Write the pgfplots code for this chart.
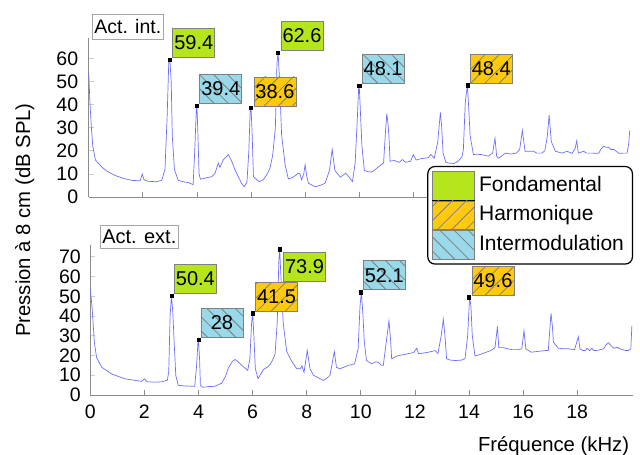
\documentclass[border=0pt]{standalone}
\usepackage{fontspec}
\setmainfont{Liberation Sans}
\usepackage{pgfplots}
\pgfplotsset{compat=1.18}
\usetikzlibrary{patterns.meta}

\definecolor{specblue}{RGB}{110,110,250}
\definecolor{limeg}{RGB}{181,230,29}
\definecolor{goldy}{RGB}{255,201,14}
\definecolor{lightb}{RGB}{153,217,234}

\tikzset{
  lab/.style={draw=black!50, line width=0.8pt, minimum width=42pt, minimum height=29pt, inner sep=1pt, font=\fontsize{20}{22}\selectfont, text=black},
  fonda/.style={lab, fill=limeg},
  harmo/.style={lab, preaction={fill=goldy}, pattern={Lines[angle=45,distance=10pt,line width=0.8pt]}, pattern color=black!50},
  inter/.style={lab, preaction={fill=lightb}, pattern={Lines[angle=-45,distance=10pt,line width=0.8pt]}, pattern color=black!50},
}

\pgfplotsset{
  myax/.style={scale only axis, axis lines=left,
    axis line style={-, draw=black!45, line width=0.8pt},
    xmin=0, xmax=20.05, ymin=0, xtick={0,2,...,18},
    tick align=inside, major tick length=5pt,
    xtick style={draw=black!45, line width=0.8pt},
    ytick style={draw=black!20, line width=0.8pt},
    tick label style={font=\fontsize{19.5}{22}\selectfont},
    /pgf/number format/assume math mode=true, clip=false,
    xticklabel style={yshift=-6.5pt},
  },
  curve/.style={color=specblue, line width=0.7pt, no marks, forget plot},
  pk/.style={only marks, mark=square*, mark size=1.6pt, color=black, forget plot,
    point meta=explicit symbolic, nodes near coords},
}

\begin{document}
\begin{tikzpicture}

% ---------------- bottom axis ----------------
\begin{axis}[myax, at={(90.3pt,-395pt)}, anchor=south west,
  width=542.4pt, height=150pt, ymax=76, ytick={0,10,...,70},
  yticklabel style={xshift=-6pt},
  every axis title/.style={at={(axis description cs:0,1)}, anchor=south west, xshift=9.7pt, yshift=-4pt,
    draw=black!35, line width=0.6pt, fill=white, minimum width=78pt, minimum height=23pt, inner sep=0pt,
    font=\fontsize{20}{22}\selectfont},
  title={Act. ext.},
  every axis x label/.style={at={(axis description cs:1,0)}, anchor=base east, yshift=-56.7pt,
    font=\fontsize{20.3}{22}\selectfont},
  xlabel={Fréquence (kHz)},
]
\addplot[curve] coordinates {
(0.00,53.5) (0.04,48) (0.07,43.5) (0.15,26.7) (0.23,19.1) (0.42,14.1) (0.78,10.7) (1.28,8.2)
(1.9,6.9) (2.0,8.2) (2.1,6.7) (2.4,6.5) (2.65,6.7) (2.85,7.5) (2.9,12) (2.95,40) (3.0,50.4)
(3.05,42) (3.1,26.7) (3.16,9.9) (3.25,4.9) (3.5,4.6) (3.86,4.4) (3.93,15) (3.98,27) (4.0,28)
(4.04,18) (4.07,4.9) (4.16,3.9) (4.4,4.3) (4.6,4.4) (4.86,6) (5.0,9.5) (5.1,13.6) (5.25,17)
(5.35,18) (5.45,17) (5.6,15) (5.82,12.5) (5.9,18.4) (5.96,36) (6.0,41.5) (6.04,32) (6.1,13.4)
(6.2,8.3) (6.3,10.5) (6.4,13) (6.55,14.1) (6.65,15.5) (6.75,18) (6.83,20.8) (6.91,36.7)
(6.97,68) (7.0,73.9) (7.04,62) (7.13,36.7) (7.26,22) (7.43,17.5) (7.63,13.3) (7.76,13.3)
(7.82,14.8) (7.9,11.5) (8.02,22.5) (8.12,13.3) (8.25,10) (8.5,8.2) (8.61,7.4) (8.75,8.5)
(8.86,10) (9.02,22) (9.1,14) (9.22,13.3) (9.4,14.2) (9.53,15) (9.77,15.8) (9.9,23.4)
(9.97,45) (10.02,52.1) (10.08,40) (10.13,26.7) (10.21,17.5) (10.4,15.8) (10.55,16.8)
(10.65,16.6) (10.75,15.2) (10.83,15) (10.97,30) (11.04,37.6) (11.1,28) (11.14,18.4)
(11.25,19.2) (11.39,20) (11.6,20.5) (11.76,21) (11.95,21.5) (12.07,23.7) (12.13,21)
(12.3,21.2) (12.5,21.7) (12.75,22.5) (12.85,21) (12.97,30) (13.05,38.4) (13.11,30)
(13.17,18.4) (13.3,17.7) (13.48,17.5) (13.7,17.6) (13.85,18.4) (13.95,30) (14.02,49.6)
(14.07,45) (14.12,30) (14.22,19.8) (14.4,20.5) (14.6,21.5) (14.8,22.5) (14.96,24) (15.05,34.7)
(15.1,24) (15.27,24) (15.4,23.5) (15.58,23) (15.8,23) (15.95,23.4) (16.03,32.6) (16.1,23.4)
(16.3,21.7) (16.5,22) (16.8,22.5) (16.93,22.5) (16.98,32) (17.03,41.4) (17.08,35) (17.12,26.7)
(17.3,23.7) (17.5,23.4) (17.67,23.4) (17.9,23) (18.04,29.5) (18.1,23.4) (18.2,22.6) (18.3,22.5)
(18.36,23.7) (18.45,22.5) (18.54,23.7) (18.6,22.6) (18.67,22.5) (18.8,22.8) (18.97,23.4)
(19.07,25.5) (19.16,26.5) (19.25,25) (19.35,23.7) (19.47,24.2) (19.6,23.3) (19.8,22.5)
(19.9,22.6) (19.98,23.4) (20.02,35)
};
\addplot[pk, every node near coord/.append style={fonda, anchor=south west, xshift=2.5pt, yshift=2pt}]
  coordinates {(3,50.4) [50.4]};
\addplot[pk, every node near coord/.append style={fonda, anchor=north west, xshift=3.5pt, yshift=-2.5pt}]
  coordinates {(7,73.9) [73.9]};
\addplot[pk, every node near coord/.append style={inter, anchor=south west, xshift=2pt, yshift=2pt}]
  coordinates {(4,28) [28] (10,52.1) [52.1]};
\addplot[pk, every node near coord/.append style={harmo, anchor=south west, xshift=2.5pt, yshift=1.5pt}]
  coordinates {(6,41.5) [41.5] (14,49.6) [49.6]};
\end{axis}

% ---------------- top axis ----------------
\begin{axis}[myax, at={(88.7pt,-197pt)}, anchor=south west,
  width=542.4pt, height=159.4pt, ymax=69, ytick={0,10,...,60},
  xticklabels={},
  yticklabel style={xshift=-7pt},
  every axis title/.style={at={(axis description cs:0,1)}, anchor=south west, xshift=3.3pt, yshift=-2pt,
    draw=black!35, line width=0.6pt, fill=white, minimum width=71pt, minimum height=25pt, inner sep=0pt,
    font=\fontsize{19.5}{22}\selectfont},
  title={Act. int.},
  legend style={at={(1.0035,0.195)}, anchor=north east, draw=black, line width=1.2pt,
    rounded corners=7pt, fill=white, inner sep=4.5pt, row sep=0pt,
    font=\fontsize{21}{23}\selectfont,
    nodes={inner xsep=4pt, inner ysep=0pt, text height=15pt, text depth=4pt}},
  legend cell align=left,
  legend image code/.code={\draw[sharp corners, line width=0.8pt, draw=black!50, #1] (0pt,-14.35pt) rectangle (42pt,14.35pt);},
]
\addlegendimage{fill=limeg}
\addlegendentry{Fondamental}
\addlegendimage{preaction={fill=goldy}, pattern={Lines[angle=45,distance=10pt,line width=0.8pt]}, pattern color=black!50}
\addlegendentry{Harmonique}
\addlegendimage{preaction={fill=lightb}, pattern={Lines[angle=-45,distance=10pt,line width=0.8pt]}, pattern color=black!50}
\addlegendentry{Intermodulation}

\addplot[curve] coordinates {
(0.00,53.8) (0.05,40) (0.10,30) (0.15,22) (0.25,16) (0.35,14.7) (0.5,12.8) (0.7,11) (1.0,9.2)
(1.3,8) (1.6,7.2) (1.9,7) (1.98,9.9) (2.05,7.4) (2.2,6.8) (2.5,6.6) (2.7,7.2) (2.82,12)
(2.9,35) (2.96,58.5) (3.0,59.4) (3.05,50) (3.09,26.5) (3.17,11.8) (3.31,7.2) (3.5,6.6)
(3.7,6.2) (3.86,5.3) (3.92,20) (3.98,38.5) (4.0,39.4) (4.03,30) (4.08,10) (4.13,7.7)
(4.35,8.3) (4.55,8.8) (4.67,10.3) (4.79,14.7) (4.85,12.8) (4.98,16.2) (5.1,17.5) (5.16,18.4)
(5.29,15.4) (5.4,12) (5.53,8.8) (5.65,6) (5.75,4.4) (5.85,6.5) (5.92,20) (5.97,37.5) (6.0,38.6)
(6.04,28) (6.09,8.8) (6.3,6.6) (6.45,7.4) (6.6,10) (6.7,12.5) (6.8,18) (6.9,30) (6.96,58)
(7.0,62.6) (7.05,52) (7.13,27) (7.26,14) (7.38,7.8) (7.55,8.5) (7.75,10.3) (7.81,10) (7.87,7.4)
(7.95,10) (8.0,14) (8.06,9) (8.12,6) (8.37,4.4) (8.6,5.2) (8.74,6) (8.9,11.5) (9.0,20.6)
(9.1,11.5) (9.3,8.6) (9.5,10.3) (9.6,9) (9.75,6.7) (9.85,14.7) (9.93,34) (9.98,47.5) (10.0,48.1)
(10.04,38) (10.1,22) (10.19,11.5) (10.3,11) (10.46,10.8) (10.6,12) (10.77,13.6) (10.9,14.7)
(10.97,28) (11.02,36.1) (11.06,32) (11.1,26) (11.14,15.5) (11.3,15.8) (11.47,15) (11.6,16.2)
(11.72,15) (11.9,15.5) (12.0,18.4) (12.1,16) (12.25,16.5) (12.4,16.8) (12.55,17) (12.65,18.4)
(12.77,16.8) (12.9,23.6) (13.0,36.6) (13.05,30) (13.1,19) (13.2,15) (13.3,14.7) (13.5,14.5)
(13.66,15.5) (13.8,17.5) (13.85,20.6) (13.92,41) (14.0,48.4) (14.05,38) (14.1,26.5) (14.22,18.4)
(14.35,18.5) (14.5,18.4) (14.77,17.7) (14.93,19) (15.02,25.4) (15.08,17.7) (15.14,16.8)
(15.25,17.6) (15.4,19) (15.6,18.6) (15.8,19) (15.93,20.5) (16.03,28.8) (16.13,19.8) (16.3,19.8)
(16.44,19.8) (16.56,19) (16.75,19) (16.86,20) (16.95,26) (17.02,35.4) (17.1,24) (17.25,19.8)
(17.5,19) (17.68,19.8) (17.87,18.9) (17.98,21) (18.04,24.3) (18.1,19) (18.2,19.4) (18.3,19.8)
(18.4,19) (18.6,19) (18.85,18.9) (18.95,21) (19.04,22) (19.1,21.6) (19.22,21.5) (19.3,20.6)
(19.41,20.6) (19.6,18.9) (19.75,19) (19.9,19) (19.96,23) (20.0,28.8)
};
\addplot[pk, every node near coord/.append style={fonda, anchor=south west, xshift=2.5pt, yshift=2pt}]
  coordinates {(3,59.4) [59.4] (7,62.6) [62.6]};
\addplot[pk, every node near coord/.append style={inter, anchor=south west, xshift=2.5pt, yshift=2pt}]
  coordinates {(4,39.4) [39.4] (10,48.1) [48.1]};
\addplot[pk, every node near coord/.append style={harmo, anchor=south west, xshift=2.5pt, yshift=1.5pt}]
  coordinates {(6,38.6) [38.6] (14,48.4) [48.4]};
\end{axis}

\node[rotate=90, anchor=base, font=\fontsize{20.3}{22}\selectfont] at (30pt,-220pt) {Pression à 8 cm (dB SPL)};

\pgfresetboundingbox
\useasboundingbox (0,0) rectangle (640pt,-455pt);
\end{tikzpicture}
\end{document}
